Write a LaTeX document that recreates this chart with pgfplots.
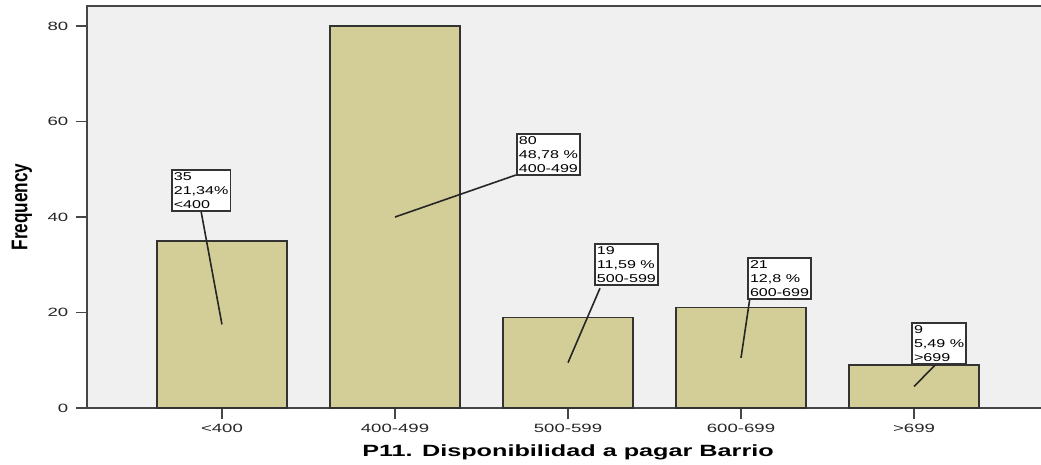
\documentclass[border=0pt]{standalone}
\usepackage{fontspec}
\setmainfont{Liberation Sans}[FakeStretch=1.55]
\newfontfamily\plainsf{Liberation Sans}
\newfontfamily\boxsf{Liberation Sans}[FakeStretch=1.42]
\usepackage{pgfplots}
\pgfplotsset{compat=1.18}
\definecolor{barfill}{RGB}{211,206,152}
\definecolor{bgc}{RGB}{240,240,240}
\definecolor{axc}{RGB}{70,70,70}
\tikzset{boxst/.style={draw=black!80, fill=white, line width=1.2pt, align=left, inner xsep=1.6pt, inner ysep=2pt, font=\boxsf\fontsize{8.5}{10.5}\selectfont, anchor=north west}}
\begin{document}
\begin{tikzpicture}
\begin{axis}[
 scale only axis, width=721.5pt, height=301.5pt,
 xmin=-0.78, xmax=4.78, ymin=0, ymax=84.2,
 ybar, bar width=97.5pt,
 xtick={0,1,2,3,4}, xticklabels={{<400},{400-499},{500-599},{600-699},{>699}},
 ytick={0,20,40,60,80},
 tick align=outside, major tick length=8.5pt,
 xtick pos=bottom, ytick pos=left,
 axis background/.style={fill=bgc},
 axis line style={draw=axc, line width=1.1pt},
 tick style={draw=axc, line width=1.1pt},
 ticklabel style={font=\fontsize{9}{11}\selectfont, text=black!85},
 yticklabel style={xshift=-2pt},
 /pgf/number format/assume math mode=true,
 xlabel={P11. Disponibilidad a pagar Barrio},
 ylabel={\scalebox{1}[1.32]{\plainsf\bfseries\fontsize{12.9}{14}\selectfont Frequency}},
 every axis x label/.style={at={(rel axis cs:0.5,-0.1194)}, anchor=base, font=\bfseries\fontsize{12.2}{14}\selectfont},
 every axis y label/.style={at={(rel axis cs:-0.0676,0.5)}, rotate=90, anchor=center},
 clip=false,
]
\addplot[fill=barfill, draw=black!80, line width=1.1pt] coordinates {(0,35) (1,80) (2,19) (3,21) (4,9)};

\draw[line width=1.2pt, black!85] (axis cs:-0.121,41.26) -- (axis cs:0,17.5);
\node[boxst] at (axis cs:-0.295,50.05) {35\\21,34\%\\<400};

\draw[line width=1.2pt, black!85] (axis cs:1.699,48.8) -- (axis cs:1,40);
\node[boxst] at (axis cs:1.699,57.6) {80\\48,78 \%\\400-499};

\draw[line width=1.2pt, black!85] (axis cs:2.185,25.1) -- (axis cs:2,9.5);
\node[boxst] at (axis cs:2.150,34.55) {19\\11,59 \%\\500-599};

\draw[line width=1.2pt, black!85] (axis cs:3.052,23.2) -- (axis cs:3,10.5);
\node[boxst] at (axis cs:3.035,31.6) {21\\12,8 \%\\600-699};

\draw[line width=1.2pt, black!85] (axis cs:4.127,9.2) -- (axis cs:4,4.5);
\node[boxst] at (axis cs:3.983,18.0) {9\\5,49 \%\\>699};

\coordinate (bbl) at (rel axis cs:-0.09044,-0.14179);
\coordinate (btr) at (rel axis cs:0.99168,1.014925);
\end{axis}
\pgfresetboundingbox
\path[use as bounding box] (bbl) rectangle (btr);
\end{tikzpicture}
\end{document}
